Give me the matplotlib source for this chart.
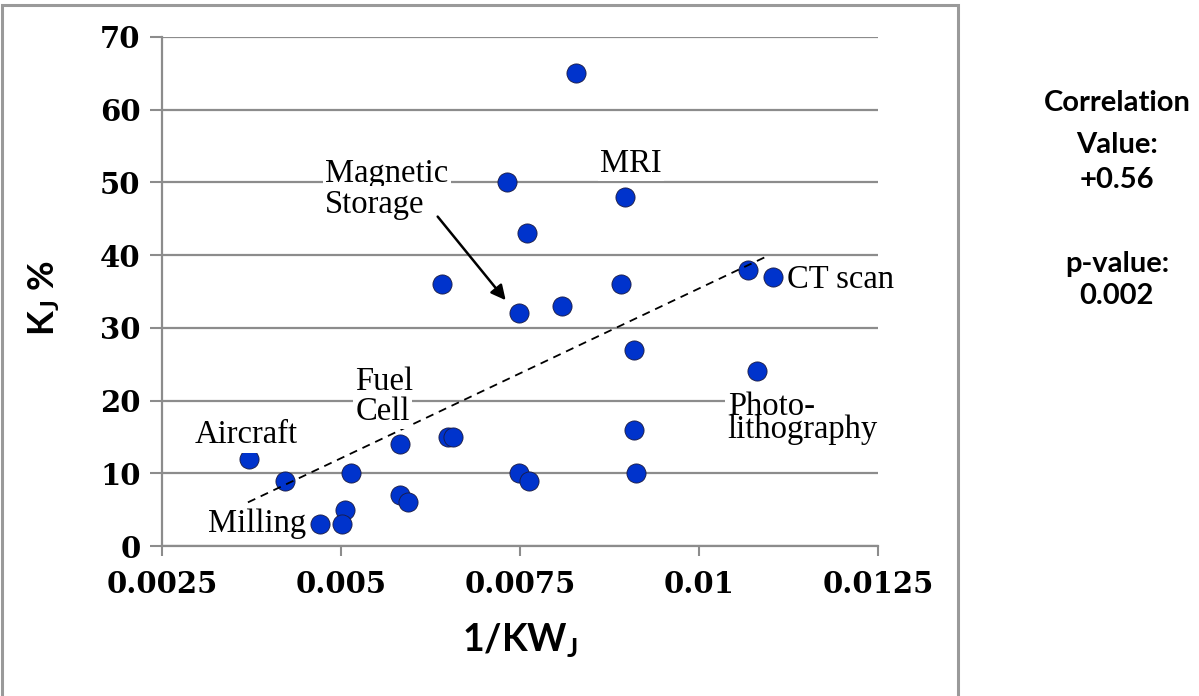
import matplotlib
matplotlib.use("Agg")
import matplotlib.pyplot as plt
from matplotlib.patches import Rectangle

# ---- data ----
inv_kw = [0.00828, 0.00732, 0.00897, 0.00760, 0.00891, 0.00641, 0.00749, 0.00809,
          0.01068, 0.01104, 0.00909, 0.01081, 0.00909, 0.00912, 0.00749, 0.00763,
          0.00371, 0.00422, 0.00514, 0.00582, 0.00650, 0.00656, 0.00582, 0.00593,
          0.00506, 0.00471, 0.00501]
kj_pct = [65, 50, 48, 43, 36, 36, 32, 33,
          38, 37, 27, 24, 16, 10, 10, 9,
          12, 9, 10, 14, 15, 15, 7, 6,
          5, 3, 3]
trend_x = [0.00370, 0.01096]
trend_y = [6.0, 39.9]
x_ticks = [0.0025, 0.005, 0.0075, 0.01, 0.0125]
x_tick_labels = ["0.0025", "0.005", "0.0075", "0.01", "0.0125"]
y_ticks = [0, 10, 20, 30, 40, 50, 60, 70]
stats_lines = ["Correlation", "Value:", "+0.56", "p-value:", "0.002"]

W, H = 1199, 696
fig = plt.figure(figsize=(W / 100, H / 100), dpi=100)
fig.patch.set_facecolor("white")

# outer border of chart area
fig.patches.append(Rectangle((2 / W, -0.02), (958 - 2) / W, 1.02 - 5 / H,
                             transform=fig.transFigure, fill=False,
                             edgecolor="#9a9a9a", lw=2.2, zorder=0))

ax = fig.add_axes([162 / W, (H - 546) / H, (878 - 162) / W, (546 - 37) / H])
ax.set_xlim(0.0025, 0.0125)
ax.set_ylim(0, 70)

gridc = "#8c8c8c"
ax.set_yticks(y_ticks)
ax.set_xticks(x_ticks)
ax.set_xticklabels(x_tick_labels)
ax.yaxis.grid(True, color=gridc, lw=1.6, zorder=0)
ax.set_axisbelow(True)
for s in ["top", "right"]:
    ax.spines[s].set_visible(False)
for s in ["left", "bottom"]:
    ax.spines[s].set_color(gridc)
    ax.spines[s].set_linewidth(1.6)
ax.tick_params(axis="y", direction="out", length=8.5, width=1.5, color=gridc, pad=7)
ax.tick_params(axis="x", direction="out", length=7.5, width=1.5, color=gridc, pad=10)
for lab in ax.get_xticklabels() + ax.get_yticklabels():
    lab.set_fontfamily("DejaVu Serif")
    lab.set_fontweight("bold")
    lab.set_fontsize(21)

ax.scatter(inv_kw, kj_pct, s=190, color="#0033CC", edgecolor="#1a1a40",
           linewidth=0.6, zorder=3)
ax.plot(trend_x, trend_y, color="black", lw=1.3, linestyle=(0, (4.5, 3.3)), zorder=4)

afont = dict(family="Liberation Serif", fontsize=23.5, color="black")
bbox_w = dict(boxstyle="square,pad=0.08", facecolor="white", edgecolor="none")
# single-line annotation labels: (text, x, baseline y)
for t, xx, yy in [("Magnetic", 0.00478, 50.1), ("Storage", 0.00478, 45.85),
                  ("Fuel", 0.00520, 21.5), ("Cell", 0.00520, 17.35),
                  ("MRI", 0.00862, 51.45), ("CT scan", 0.01123, 35.5),
                  ("Aircraft", 0.00295, 14.1), ("Milling", 0.00314, 1.97)]:
    ax.text(xx, yy, t, ha="left", va="baseline", bbox=bbox_w, zorder=5, **afont)
ax.text(0.01040, 21.2, "Photo-\nlithography", ha="left", va="top", linespacing=0.68,
        bbox=bbox_w, zorder=5, **afont)

ax.annotate("", xy=(0.00730, 33.8), xytext=(0.00635, 45.3),
            arrowprops=dict(arrowstyle="-|>", color="black", lw=1.8,
                            mutation_scale=22, shrinkA=0, shrinkB=0), zorder=5)

lab_font = dict(family="Lato", fontweight="bold", color="black")
plt.rcParams["mathtext.default"] = "regular"
fig.text(520 / W, 1 - 640 / H, r"1/KW$_\mathregular{J}$", ha="center", va="center",
         fontsize=27, **lab_font)
fig.text(44 / W, 1 - 298 / H, r"K$_\mathregular{J}$ %", ha="center", va="center",
         rotation=90, fontsize=26, **lab_font)

ys = [103, 145, 180, 264, 296]
for t, yy in zip(stats_lines, ys):
    fig.text(1117 / W, 1 - yy / H, t, ha="center", va="center", fontsize=21, **lab_font)

fig.savefig("out.png", dpi=100)
